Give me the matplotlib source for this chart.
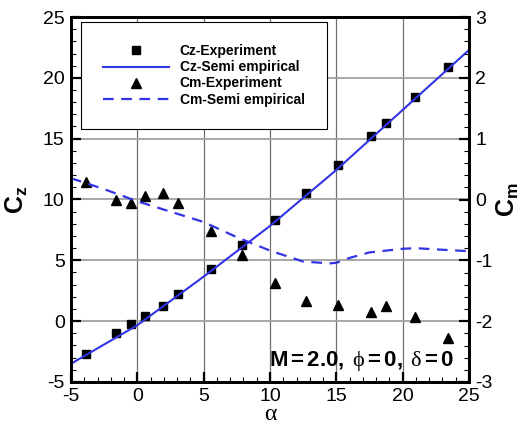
import numpy as np
import matplotlib
matplotlib.use('Agg')
import matplotlib.pyplot as plt
from matplotlib.ticker import MultipleLocator

plt.rcParams['font.family'] = 'Liberation Sans'
plt.rcParams['axes.unicode_minus'] = False
plt.rcParams['mathtext.fontset'] = 'custom'
plt.rcParams['mathtext.rm'] = 'Liberation Serif'
plt.rcParams['mathtext.it'] = 'Liberation Serif:italic'
plt.rcParams['mathtext.bf'] = 'Liberation Sans:bold'
plt.rcParams['mathtext.sf'] = 'Liberation Sans'

# experiment points
alpha_exp = [-3.9, -1.6, -0.45, 0.6, 1.9, 3.05, 5.55, 7.9, 10.35, 12.75, 15.15, 17.6, 18.75, 20.95, 23.4]
cz_exp = [-2.7, -1.0, -0.25, 0.45, 1.25, 2.2, 4.3, 6.25, 8.3, 10.55, 12.85, 15.2, 16.25, 18.4, 20.9]
cm_exp = [0.29, 0.0, -0.05, 0.05, 0.11, -0.05, -0.51, -0.91, -1.37, -1.67, -1.73, -1.85, -1.75, -1.93, -2.27]

# semi empirical curves
alpha_cz_line = [-5, 0, 5, 10, 15, 20, 25]
cz_line = [-3.5, -0.33, 3.66, 7.83, 12.43, 17.36, 22.29]
alpha_cm_line = [-5, -2.5, 0, 2.5, 5, 7.5, 10, 12.5, 14.5, 15, 16, 17.5, 20, 21, 22.5, 25]
cm_line = [0.35, 0.17, -0.03, -0.2, -0.37, -0.62, -0.84, -1.02, -1.05, -1.04, -0.96, -0.87, -0.81, -0.80, -0.82, -0.85]

blue = '#3333e6'

fig = plt.figure(figsize=(5.28, 4.25), dpi=100)
ax = fig.add_axes([71/528, 1-382/425, 398/528, 365/425])
ax2 = ax.twinx()

h1, = ax.plot(alpha_exp, cz_exp, 's', color='black', markersize=6, linestyle='none', label='Cz-Experiment')
h2, = ax.plot(alpha_cz_line, cz_line, '-', color=blue, lw=1.5, label='Cz-Semi empirical')
h3, = ax2.plot(alpha_exp, cm_exp, '^', color='black', markersize=6.5, linestyle='none', label='Cm-Experiment')
h4, = ax2.plot(alpha_cm_line, cm_line, '--', color=blue, lw=1.6, dashes=(4.8, 3.4), label='Cm-Semi empirical')

ax.set_xlim(-5, 25)
ax.set_ylim(-5, 25)
ax2.set_ylim(-3, 3)

ax.xaxis.set_major_locator(MultipleLocator(5))
ax.xaxis.set_minor_locator(MultipleLocator(1))
ax.yaxis.set_major_locator(MultipleLocator(5))
ax.yaxis.set_minor_locator(MultipleLocator(1))
ax2.yaxis.set_major_locator(MultipleLocator(1))
ax2.yaxis.set_minor_locator(MultipleLocator(0.2))

for a in (ax, ax2):
    a.tick_params(which='major', direction='in', length=7, width=1.6, labelsize=14, pad=4.5)
    a.tick_params(which='minor', direction='in', length=3.5, width=0.8)
    for s in a.spines.values():
        s.set_linewidth(2)
ax.tick_params(top=False, right=False, which='both')
ax2.tick_params(left=False, which='both')

ax.xaxis.grid(True, which='major', color='#707070', lw=0.9)
ax.yaxis.grid(True, which='major', color='#a0a0a0', lw=1.3)
ax.set_axisbelow(True)

ax.set_xlabel('α', fontsize=17, fontfamily='Liberation Serif', va='center')
ax.xaxis.set_label_coords(0.5, -0.088)
ax.set_ylabel(r'$\mathbf{C_z}$', fontsize=18, va='center')
ax.yaxis.set_label_coords(-0.135, 0.5)
ax2.set_ylabel(r'$\mathbf{C_m}$', fontsize=18, rotation=90, va='center')
ax2.yaxis.set_label_coords(1.098, 0.5)

leg = ax2.legend(handles=[h1, h2, h3, h4], loc='upper left', bbox_to_anchor=(0.025, 0.986),
                 borderaxespad=0, borderpad=1.6, fancybox=False, framealpha=1,
                 edgecolor='black', handlelength=4.75, handletextpad=0.77, labelspacing=0.15,
                 prop={'weight': 'bold', 'size': 10})
leg.get_frame().set_linewidth(0.8)

ax2.text(0.962, 0.045, r'$\mathbf{M{=}2.0,}\ \mathrm{\phi}\mathbf{{=}0,}\ \mathrm{\delta}\mathbf{{=}0}$',
         transform=ax2.transAxes, ha='right', va='baseline', fontsize=16)

fig.savefig('out.png', dpi=100)
